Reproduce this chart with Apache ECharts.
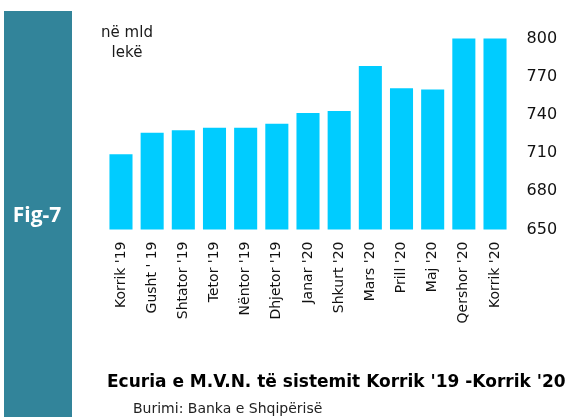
<!DOCTYPE html>
<html>
<head>
<meta charset="utf-8">
<script src="https://cdn.jsdelivr.net/npm/echarts@6/dist/echarts.min.js"></script>
<style>
  html, body { margin: 0; padding: 0; background: #fff; }
  #chart { width: 569px; height: 417px; }
</style>
</head>
<body>
<div id="chart"></div>
<script>
var months = ["Korrik '19", "Gusht ' 19", "Shtator '19", "Tetor '19", "Nëntor '19", "Dhjetor '19",
    "Janar '20", "Shkurt '20", "Mars '20", "Prill '20", "Maj '20", "Qershor '20", "Korrik '20"];
var mvn = [709, 726, 728, 730, 730, 733, 741.5, 743, 778.5, 761, 760, 800, 800];
var yMin = 650, yMax = 800, yStep = 30;

var chart = echarts.init(document.querySelector('#chart'), null, { renderer: 'canvas' });
var option = {
    animation: false,
    backgroundColor: '#fff',
    textStyle: { fontFamily: 'DejaVu Sans, sans-serif' },
    grid: {
        left: 105.4,
        right: 58.4,
        top: 38.5,
        bottom: 187.5
    },
    graphic: [
        { type: 'rect', left: 4, top: 11, shape: { width: 68, height: 410 }, style: { fill: '#32849a' } },
        { type: 'text', x: 37, y: 216, style: { text: 'Fig-7', fill: '#fff', font: 'bold 21px "Open Sans", sans-serif', textAlign: 'center', textVerticalAlign: 'middle' } },
        { type: 'text', x: 127, y: 43, style: { text: 'në mld\nlekë', fill: '#1a1a1a', font: '15px "DejaVu Sans", sans-serif', textAlign: 'center', textVerticalAlign: 'middle', lineHeight: 20 } },
        { type: 'text', x: 107, y: 383, style: { text: "Ecuria e M.V.N. të sistemit Korrik '19 -Korrik '20", fill: '#000', font: 'bold 17px "DejaVu Sans", sans-serif', textVerticalAlign: 'middle' } },
        { type: 'text', x: 133, y: 409, style: { text: 'Burimi: Banka e Shqipërisë', fill: '#222', font: '14px "DejaVu Sans", sans-serif', textVerticalAlign: 'middle' } }
    ],
    xAxis: {
        type: 'category',
        data: months,
        axisLine: { show: false },
        axisTick: { show: false },
        axisLabel: {
            rotate: 90,
            margin: 12,
            fontSize: 14,
            color: '#111',
            interval: 0
        }
    },
    yAxis: {
        type: 'value',
        position: 'right',
        min: yMin,
        max: yMax,
        interval: yStep,
        axisLine: { show: false },
        axisTick: { show: false },
        splitLine: { show: false },
        axisLabel: {
            margin: 16,
            fontSize: 16,
            color: '#111'
        }
    },
    series: [
        {
            type: 'bar',
            data: mvn,
            barCategoryGap: '26%',
            itemStyle: { color: '#00ccff' }
        }
    ]
};

if (option && typeof option === 'object') {
    chart.setOption(option);
}

window.addEventListener('resize', function () {
    chart.resize();
})
</script>
</body>
</html>
